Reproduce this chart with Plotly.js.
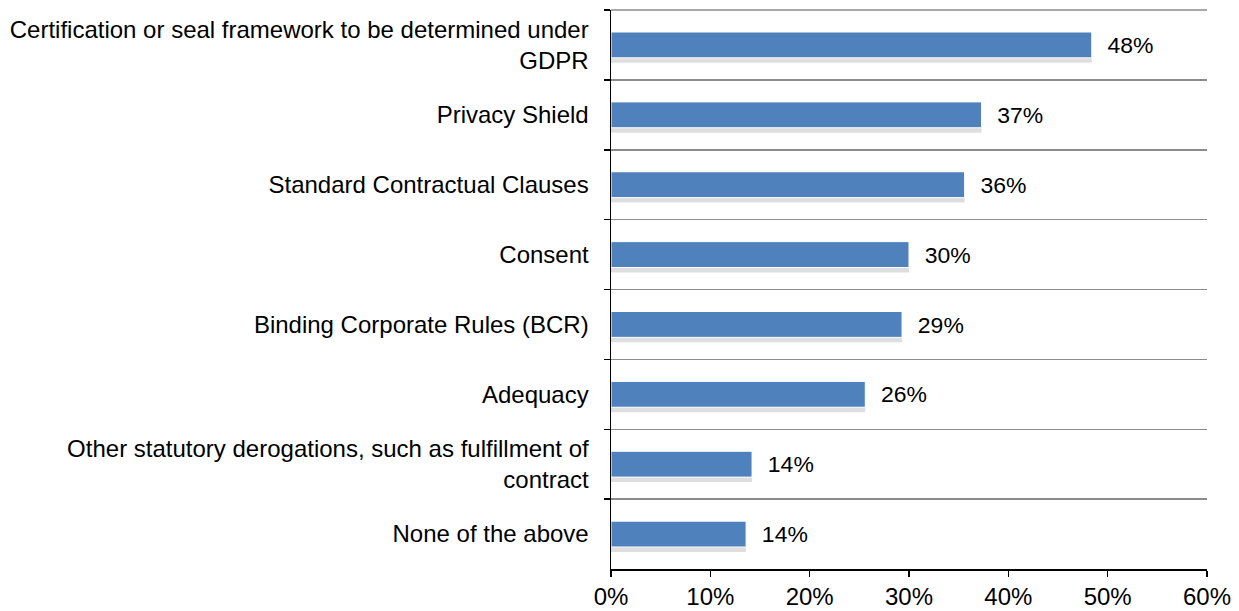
<!DOCTYPE html>
<html>
<head>
<meta charset="utf-8">
<script src="https://cdn.plot.ly/plotly-3.0.1.min.js"></script>
<style>
  html, body { margin: 0; padding: 0; background: #ffffff; }
  #chart { width: 1239px; height: 611px; }
</style>
</head>
<body>
<div id="chart"></div>
<script>
const categories = [
  "Certification or seal framework to be determined under<br>GDPR",
  "Privacy Shield",
  "Standard Contractual Clauses",
  "Consent",
  "Binding Corporate Rules (BCR)",
  "Adequacy",
  "Other statutory derogations, such as fulfillment of<br>contract",
  "None of the above"
];
const values = [48.4, 37.3, 35.6, 30.0, 29.3, 25.6, 14.2, 13.6];
const valueLabels = ["48%", "37%", "36%", "30%", "29%", "26%", "14%", "14%"];
const xTickValues = [0, 10, 20, 30, 40, 50, 60];
const xTickLabels = ["0%", "10%", "20%", "30%", "40%", "50%", "60%"];

const FONT = "Liberation Sans, Arial, sans-serif";
const FS = 24;
const barWidth = 0.37;

const shadow = {
  type: "bar",
  orientation: "h",
  y: categories,
  x: values,
  width: barWidth,
  offset: -barWidth / 2 + 0.07,
  marker: { color: "rgba(0,0,0,0.13)", line: { width: 0 } },
  hoverinfo: "skip",
  showlegend: false
};

const bars = {
  type: "bar",
  orientation: "h",
  y: categories,
  x: values,
  width: barWidth,
  offset: -barWidth / 2,
  marker: { color: "#4F81BD", line: { color: "#ffffff", width: 1 } },
  text: valueLabels.map(t => "  " + t),
  textposition: "outside",
  cliponaxis: false,
  textfont: { family: FONT, size: FS, color: "#000000" },
  hoverinfo: "skip",
  showlegend: false
};

const layout = {
  width: 1239,
  height: 611,
  margin: { l: 611, r: 32, t: 10, b: 42 },
  paper_bgcolor: "#ffffff",
  plot_bgcolor: "#ffffff",
  barmode: "overlay",
  font: { family: FONT, size: FS, color: "#000000" },
  xaxis: {
    range: [0, 60],
    tickvals: xTickValues,
    ticktext: xTickLabels,
    ticks: "outside",
    ticklen: 6,
    tickwidth: 1.5,
    tickcolor: "#000000",
    showline: true,
    linecolor: "#000000",
    linewidth: 1.5,
    showgrid: false,
    zeroline: false,
    tickfont: { family: FONT, size: FS, color: "#000000" },
    fixedrange: true
  },
  yaxis: {
    type: "category",
    autorange: "reversed",
    tickson: "boundaries",
    ticks: "outside",
    ticklen: 6,
    tickwidth: 1.5,
    tickcolor: "#000000",
    showline: true,
    linecolor: "#000000",
    linewidth: 1.5,
    showgrid: true,
    gridcolor: "#8c8c8c",
    gridwidth: 1.5,
    zeroline: false,
    ticklabelstandoff: 16,
    tickfont: { family: FONT, size: FS, color: "#000000" },
    fixedrange: true
  },
  shapes: [{
    type: "line", xref: "paper", yref: "paper",
    x0: 0, x1: 1, y0: 1, y1: 1,
    line: { color: "#8c8c8c", width: 1.5 },
    layer: "below"
  }]
};

Plotly.newPlot("chart", [shadow, bars], layout, { displayModeBar: false, staticPlot: true });
</script>
</body>
</html>
